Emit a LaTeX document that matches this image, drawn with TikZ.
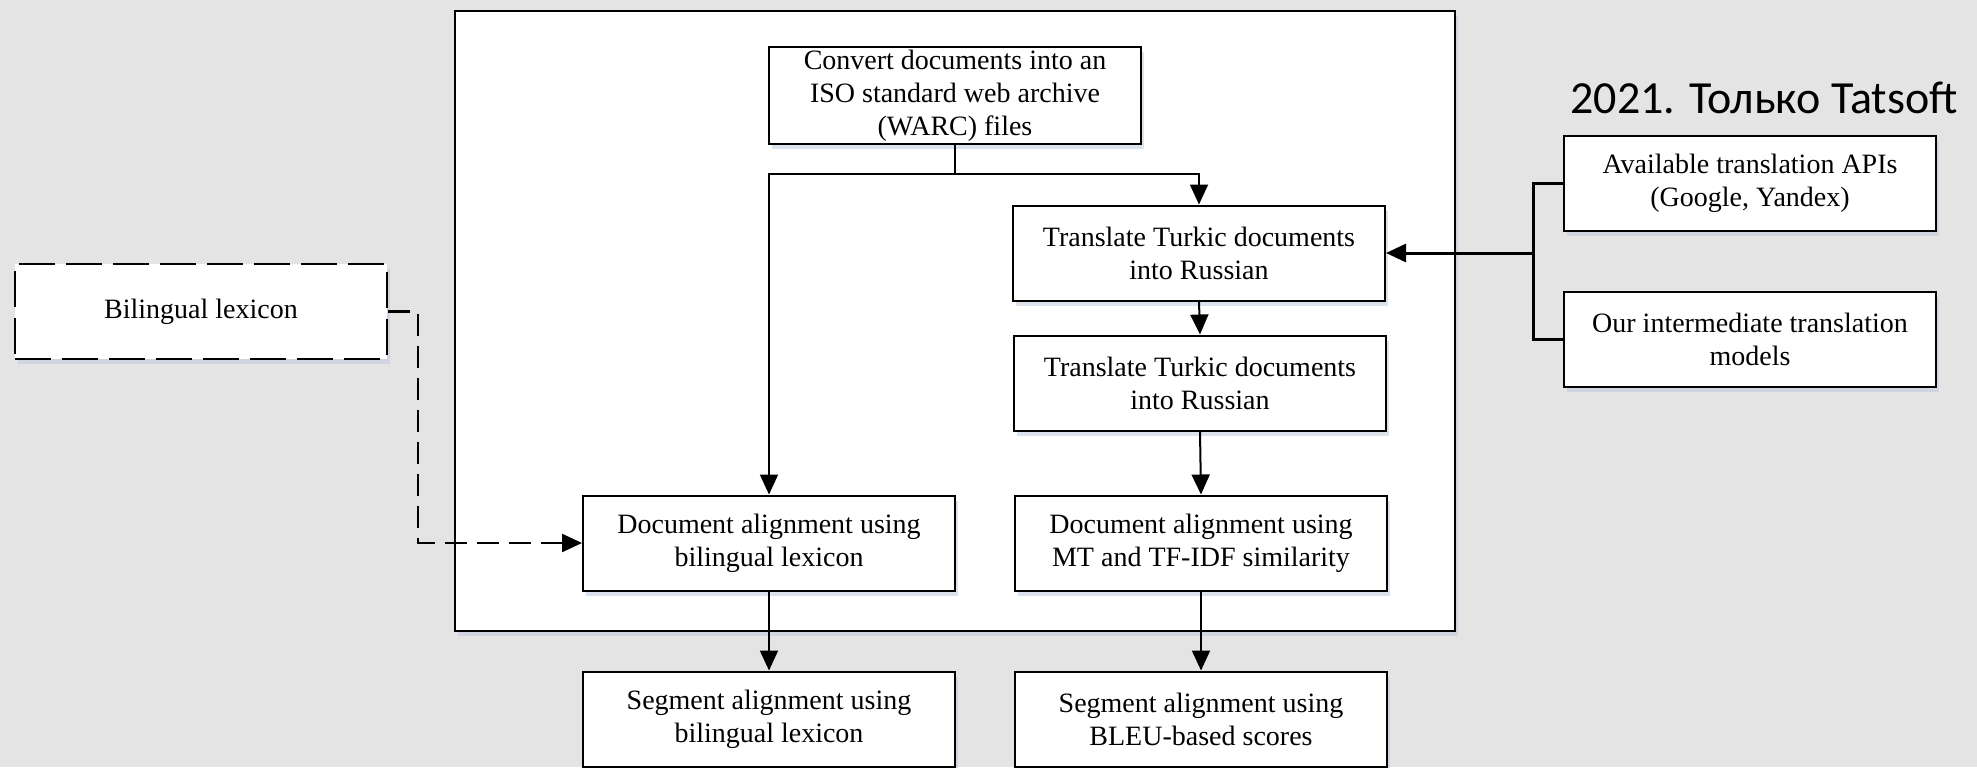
\documentclass[tikz,border=0pt]{standalone}
\usepackage{fontspec}
\setmainfont{Liberation Serif}
\newfontfamily\titlefont{Carlito}
\usetikzlibrary{arrows.meta,positioning,shadows}
\definecolor{bggray}{RGB}{228,228,228}
\definecolor{shadowblue}{RGB}{185,200,218}

\begin{document}
\begin{tikzpicture}[
  x=0.5pt, y=-0.5pt,
  font=\fontsize{14}{16.5}\selectfont, >={Triangle[length=10pt,width=9pt]},
  softshadow/.style={drop shadow={shadow xshift=1.5pt, shadow yshift=-2.5pt, fill=shadowblue, opacity=0.5}},
  box/.style={draw, line width=1pt, fill=white, align=center, inner sep=0pt,
    minimum width=186pt, minimum height=47.5pt, softshadow},
  dbox/.style={box, dash pattern=on 18pt off 5.5pt},
  arr/.style={->, line width=1pt},
  brk/.style={line width=1.5pt},
  lnk/.style={->, line width=1.2pt, dash pattern=on 11pt off 5pt},
]
\useasboundingbox (0,0) rectangle (1977,767);
\fill[bggray] (0,0) rectangle (1977,767);
% ---------------- outer frame ----------------
\draw[line width=1.2pt, fill=white, softshadow] (455,11) rectangle (1455,631);
% ---------------- main column boxes ----------------
\node[box, minimum height=48.5pt] (conv) at (955,95.5)
  {Convert documents into an\\ISO standard web archive\\(WARC) files};
\node[box] (tr1) at (1199,253) {Translate Turkic documents\\into Russian};
\node[box] (tr2) at (1200,383) {Translate Turkic documents\\into Russian};
\node[box] (dal) at (769,543) {Document alignment using\\bilingual lexicon};
\node[box] (dar) at (1201,543) {Document alignment using\\MT and TF-IDF similarity};
\node[box] (sgl) at (769,719) {Segment alignment using\\bilingual lexicon};
\node[box] (sgr) at (1201,719) {Segment alignment using\\BLEU-based scores};
% ---------------- side inputs ----------------
\node[dbox] (lex) at (201,311.5) {Bilingual lexicon};
\node[box] (api) at (1750,183) {Available translation APIs\\(Google, Yandex)};
\node[box] (our) at (1750,339.5) {Our intermediate translation\\models};
\node[font=\titlefont\fontsize{23}{27}\selectfont, anchor=base west, inner sep=0pt]
  (title) at (1570,113) {2021. Только Tatsoft};
% ---------------- connectors ----------------
\draw[arr] (conv.south) -- ++(0,29) coordinate (split) -| (tr1.north);
\draw[arr] (split) -| (dal.north);
\draw[arr] (tr1.south) -- (tr2.north);
\draw[arr] (tr2.south) -- (dar.north);
\draw[arr] (dal) -- (sgl);
\draw[arr] (dar) -- (sgr);
\coordinate (fork) at (1533,253);
\draw[brk] (api.west) -| (fork) |- (our.west);
\draw[brk, ->] (fork) -- (tr1.east);
\draw[lnk] (lex.east) -- ++(30,0) |- (dal.west);
\end{tikzpicture}
\end{document}
